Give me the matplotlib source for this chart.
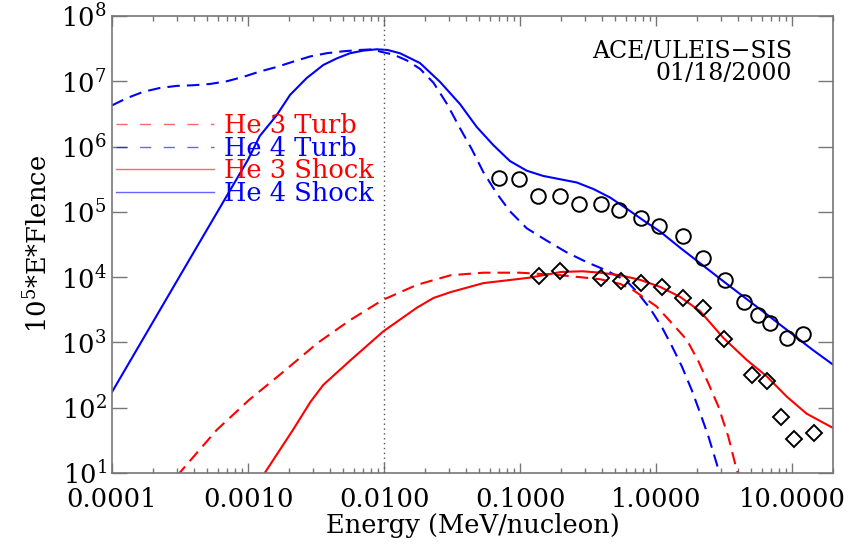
import matplotlib
matplotlib.use("Agg")
import matplotlib.pyplot as plt
from matplotlib.lines import Line2D
from matplotlib.ticker import LogLocator, FixedLocator, FixedFormatter, NullLocator, NullFormatter
import numpy as np

plt.rcParams['font.family'] = ['DejaVu Serif']
plt.rcParams['mathtext.fontset'] = 'dejavuserif'

# ---- Data (energy in MeV/nucleon, 1e5*E*fluence) ----
he4_shock_E = [1.0e-4, 3.16e-4, 1.0e-3, 1.22e-3, 1.62e-3, 2.04e-3, 2.70e-3, 3.58e-3, 4.49e-3,
               5.62e-3, 7.05e-3, 8.83e-3, 1.06e-2, 1.31e-2, 1.84e-2, 2.58e-2, 3.62e-2,
               4.80e-2, 6.37e-2, 8.43e-2, 0.112, 0.148, 0.197, 0.261, 0.346, 0.459, 0.608,
               0.807, 1.07, 1.51, 3.16, 6.61, 14.1, 20.0]
he4_shock_F = [174, 1.05e4, 6.3e5, 1.45e6, 3.0e6, 6.2e6, 1.12e7, 1.78e7, 2.24e7,
               2.69e7, 2.95e7, 3.09e7, 3.02e7, 2.69e7, 1.9e7, 9.8e6, 4.47e6,
               2.0e6, 1.05e6, 6.0e5, 4.27e5, 3.55e5, 3.16e5, 2.82e5, 2.24e5, 1.66e5, 1.12e5,
               7.4e4, 5.0e4, 2.8e4, 8.5e3, 2.63e3, 776, 457]

he4_turb_E = [1.0e-4, 1.28e-4, 1.70e-4, 2.25e-4, 2.99e-4, 3.96e-4, 5.26e-4, 6.97e-4, 9.25e-4,
              1.22e-3, 1.63e-3, 2.15e-3, 2.86e-3, 3.79e-3, 5.02e-3, 6.67e-3, 8.36e-3, 9.35e-3,
              1.17e-2, 1.47e-2, 1.84e-2, 2.31e-2, 2.89e-2, 3.62e-2, 4.42e-2, 5.37e-2, 6.75e-2,
              8.43e-2, 0.112, 0.157, 0.220, 0.309, 0.434, 0.608, 0.721, 0.904, 1.10, 1.31,
              1.55, 1.83, 2.11, 2.43, 2.79, 2.95]
he4_turb_F = [4.27e6, 5.5e6, 6.9e6, 7.9e6, 8.5e6, 8.7e6, 9.1e6, 1.0e7, 1.17e7,
              1.41e7, 1.66e7, 2.0e7, 2.40e7, 2.69e7, 2.88e7, 3.02e7, 3.09e7, 2.85e7,
              2.57e7, 2.09e7, 1.55e7, 9.5e6, 4.57e6, 1.91e6, 9.1e5, 4.07e5, 1.91e5,
              1.02e5, 5.6e4, 3.63e4, 2.40e4, 1.70e4, 1.26e4, 8.7e3, 6.0e3, 3.31e3, 1.74e3, 871,
              427, 186, 83, 36, 14, 9]

he3_turb_E = [3.0e-4, 5.89e-4, 1.02e-3, 1.82e-3, 3.24e-3, 5.62e-3, 9.77e-3, 1.74e-2, 3.09e-2,
              5.37e-2, 0.10, 0.20, 0.387, 0.543, 0.681, 1.01, 1.34, 1.68, 2.05, 2.43, 2.87,
              3.40, 3.81, 4.07]
he3_turb_F = [9, 45.7, 132, 355, 977, 2.19e3, 4.47e3, 7.6e3, 1.07e4,
              1.17e4, 1.17e4, 1.07e4, 9.3e3, 7.9e3, 6.3e3, 3.55e3, 1.86e3, 1.10e3, 513, 234, 105,
              36, 14, 8.5]

he3_shock_E = [1.26e-3, 2.14e-3, 2.88e-3, 3.58e-3, 5.62e-3, 9.89e-3, 1.74e-2, 2.31e-2, 3.09e-2,
               5.37e-2, 0.117, 0.20, 0.288, 0.387, 0.543, 0.762, 1.07, 1.50, 2.11, 3.13, 4.65,
               6.52, 9.14, 12.8, 20.0]
he3_shock_F = [8.5, 45.7, 123, 224, 525, 1.48e3, 3.39e3, 4.8e3, 5.9e3,
               8.1e3, 9.8e3, 1.2e4, 1.23e4, 1.17e4, 1.07e4, 9.1e3, 7.1e3, 5.0e3, 3.0e3, 1.17e3, 537,
               302, 148, 81, 49]

he4_obs_E = [0.070, 0.098, 0.135, 0.197, 0.272, 0.394, 0.535, 0.776, 1.05, 1.58, 2.22,
             3.21, 4.44, 5.62, 6.89, 9.18, 12.05]
he4_obs_F = [3.3e5, 3.2e5, 1.74e5, 1.74e5, 1.32e5, 1.32e5, 1.07e5, 8.1e4, 6.0e4, 4.2e4,
             1.95e4, 9.1e3, 4.2e3, 2.6e3, 2.0e3, 1.17e3, 1.35e3]

he3_obs_E = [0.138, 0.197, 0.394, 0.553, 0.776, 1.11, 1.58, 2.22, 3.16, 5.08, 6.55,
             8.30, 10.35, 14.5]
he3_obs_F = [1.05e4, 1.26e4, 9.8e3, 8.7e3, 8.1e3, 7.1e3, 4.8e3, 3.4e3, 1.12e3, 316, 257,
             72, 33, 41]

legend_labels = ["He 3 Turb", "He 4 Turb", "He 3 Shock", "He 4 Shock"]
ref_energy = 0.01
x_limits = (1e-4, 20.0)
y_limits = (10.0, 1e8)
x_major = [1e-4, 1e-3, 1e-2, 1e-1, 1.0, 10.0]
x_ticklabels = ["0.0001", "0.0010", "0.0100", "0.1000", "1.0000", "10.0000"]
annotation = ["ACE/ULEIS\u2212SIS", "01/18/2000"]

RED = "#ff0000"
BLUE = "#0000ff"
FS = 18.5

fig = plt.figure(figsize=(8.59, 5.46), dpi=100)
ax = fig.add_axes([112/859, 1 - 473/546, (833-112)/859, (473-16)/546])
ax.set_xscale("log")
ax.set_yscale("log")
ax.set_xlim(*x_limits)
ax.set_ylim(*y_limits)

dash = (6.0, 3.4)
ax.plot(he4_turb_E, he4_turb_F, color=BLUE, lw=1.5, dashes=dash)
ax.plot(he3_turb_E, he3_turb_F, color=RED, lw=1.5, dashes=dash)
ax.plot(he4_shock_E, he4_shock_F, color=BLUE, lw=1.5)
ax.plot(he3_shock_E, he3_shock_F, color=RED, lw=1.5)

ax.plot(he4_obs_E, he4_obs_F, linestyle="none", marker="o", markersize=10.5,
        markerfacecolor="none", markeredgecolor="black", markeredgewidth=1.4)
ax.plot(he3_obs_E, he3_obs_F, linestyle="none", marker="D", markersize=8,
        markerfacecolor="none", markeredgecolor="black", markeredgewidth=1.4)

ax.axvline(ref_energy, color="#555555", lw=1.0, linestyle=(0, (1, 2.5)))

# ticks
ax.xaxis.set_major_locator(FixedLocator(x_major))
ax.xaxis.set_major_formatter(FixedFormatter(x_ticklabels))
ax.xaxis.set_minor_locator(LogLocator(base=10, subs=np.arange(2, 10), numticks=20))
ax.xaxis.set_minor_formatter(NullFormatter())
ax.yaxis.set_major_locator(LogLocator(base=10, numticks=20))
ax.yaxis.set_minor_locator(NullLocator())
ax.yaxis.set_minor_formatter(NullFormatter())

spine_col = "#777777"
for s in ax.spines.values():
    s.set_color(spine_col)
    s.set_linewidth(1.2)
ax.tick_params(axis="both", which="both", direction="in", top=True, right=True,
               color=spine_col, labelsize=FS)
ax.tick_params(axis="x", which="major", length=7, width=1.0, pad=10)
ax.tick_params(axis="x", which="minor", length=3.8, width=1.0)
ax.tick_params(axis="y", which="major", length=11, width=1.0, pad=4)

ax.set_xlabel("Energy (MeV/nucleon)", fontsize=FS, labelpad=1)
ax.set_ylabel(r"$10^5$*E*Flence", fontsize=FS, labelpad=6)

ax.text(0.943, 0.923, annotation[0], transform=ax.transAxes, ha="right", va="center", fontsize=17)
ax.text(0.943, 0.875, annotation[1], transform=ax.transAxes, ha="right", va="center", fontsize=17)

handles = [
    Line2D([], [], color=RED, lw=1.0, alpha=0.6, dashes=(8, 9)),
    Line2D([], [], color=BLUE, lw=1.0, alpha=0.6, dashes=(8, 9)),
    Line2D([], [], color=RED, lw=1.0, alpha=0.6),
    Line2D([], [], color=BLUE, lw=1.0, alpha=0.6),
]
leg = ax.legend(handles, legend_labels, loc="upper left", bbox_to_anchor=(0.006, 0.787),
                frameon=False, fontsize=FS, handlelength=3.8, handletextpad=0.38,
                labelspacing=-0.10, borderpad=0, borderaxespad=0)
for t, c in zip(leg.get_texts(), [RED, BLUE, RED, BLUE]):
    t.set_color(c)

fig.savefig("out.png", dpi=100)
